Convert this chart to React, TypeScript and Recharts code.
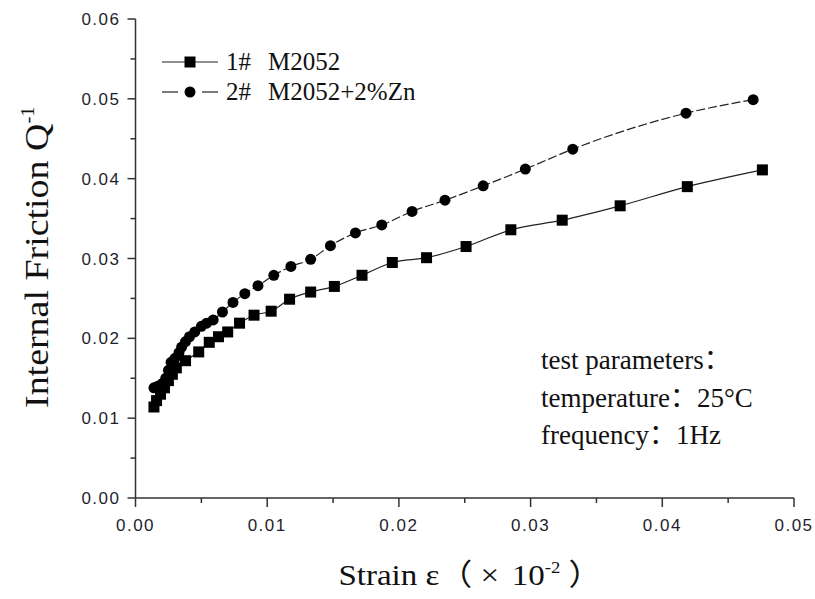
import { Line, LineChart, XAxis, YAxis } from "recharts"

// 1# M2052
const strain1 = [0.0014, 0.0016, 0.0019, 0.0022, 0.0025, 0.0028, 0.0031, 0.0038, 0.0048, 0.0056, 0.0063, 0.0070, 0.0079, 0.0090, 0.0103, 0.0117, 0.0133, 0.0151, 0.0172, 0.0195, 0.0221, 0.0251, 0.0285, 0.0324, 0.0368, 0.0419, 0.0476]
const friction1 = [0.0114, 0.0122, 0.0130, 0.0138, 0.0147, 0.0155, 0.0163, 0.0172, 0.0183, 0.0195, 0.0202, 0.0208, 0.0219, 0.0229, 0.0234, 0.0249, 0.0258, 0.0265, 0.0279, 0.0295, 0.0301, 0.0315, 0.0336, 0.0348, 0.0366, 0.0390, 0.0411]

// 2# M2052+2%Zn
const strain2 = [0.0014, 0.0017, 0.0020, 0.0023, 0.0025, 0.0027, 0.0030, 0.0033, 0.0035, 0.0038, 0.0041, 0.0045, 0.0050, 0.0054, 0.0059, 0.0066, 0.0074, 0.0083, 0.0093, 0.0105, 0.0118, 0.0133, 0.0148, 0.0167, 0.0187, 0.0210, 0.0235, 0.0264, 0.0296, 0.0332, 0.0418, 0.0469]
const friction2 = [0.0138, 0.0140, 0.0143, 0.0150, 0.0160, 0.0170, 0.0175, 0.0182, 0.0189, 0.0196, 0.0202, 0.0208, 0.0215, 0.0219, 0.0223, 0.0233, 0.0245, 0.0256, 0.0266, 0.0279, 0.0290, 0.0299, 0.0316, 0.0332, 0.0342, 0.0359, 0.0373, 0.0391, 0.0412, 0.0437, 0.0482, 0.0499]

const xTicks = [0, 0.005, 0.01, 0.015, 0.02, 0.025, 0.03, 0.035, 0.04, 0.045, 0.05]
const yTicks = [0, 0.005, 0.01, 0.015, 0.02, 0.025, 0.03, 0.035, 0.04, 0.045, 0.05, 0.055, 0.06]

const series1 = strain1.map((s, i) => ({ strain: s, q: friction1[i] }))
const series2 = strain2.map((s, i) => ({ strain: s, q: friction2[i] }))

const axisColor = "#333"
const tickFont = { fontFamily: "Liberation Sans, Arial, sans-serif", fontSize: 17, letterSpacing: 1.5, fill: "#1e1e2c" }
const serif = "Liberation Serif, Times New Roman, serif"
const cjk = "Noto Sans CJK SC"

const isMajor = (v: number) => Math.abs(v * 100 - Math.round(v * 100)) < 1e-6

function XTick({ x, y, payload }: any) {
  const major = isMajor(payload.value)
  return (
    <g>
      <line x1={x} x2={x} y1={y} y2={y + (major ? 9 : 5)} stroke={axisColor} strokeWidth={1.5} />
      {major && (
        <text x={x} y={y + 33} textAnchor="middle" {...tickFont}>
          {payload.value.toFixed(2)}
        </text>
      )}
    </g>
  )
}

function YTick({ x, y, payload }: any) {
  const major = isMajor(payload.value)
  return (
    <g>
      <line x1={x} x2={x - (major ? 8 : 5)} y1={y} y2={y} stroke={axisColor} strokeWidth={1.5} />
      {major && (
        <text x={x - 15} y={y + 6} textAnchor="end" {...tickFont}>
          {payload.value.toFixed(2)}
        </text>
      )}
    </g>
  )
}

const squareDot = (p: any) => (
  <rect key={`sq-${p.index}`} x={p.cx - 5.5} y={p.cy - 5.5} width={11} height={11} fill="#000" />
)
const circleDot = (p: any) => (
  <circle key={`ci-${p.index}`} cx={p.cx} cy={p.cy} r={5.5} fill="#000" />
)

export default function App() {
  return (
    <div style={{ position: "absolute", left: 0, top: 0, width: 815, height: 599, background: "#fff" }}>
      <LineChart width={815} height={599} margin={{ top: 19, right: 21, bottom: 61, left: 65.5 }}>
        <XAxis
          type="number"
          dataKey="strain"
          domain={[0, 0.05]}
          ticks={xTicks}
          allowDataOverflow
          height={40}
          tickSize={0}
          tickMargin={0}
          tickLine={false}
          tick={<XTick />}
          stroke={axisColor}
          strokeWidth={1.5}
        />
        <XAxis xAxisId="top" orientation="top" type="number" domain={[0, 0.05]} height={0} tick={false} tickLine={false} stroke={axisColor} strokeWidth={1.5} />
        <YAxis
          type="number"
          dataKey="q"
          domain={[0, 0.06]}
          ticks={yTicks}
          allowDataOverflow
          width={70}
          tickSize={0}
          tickMargin={0}
          tickLine={false}
          tick={<YTick />}
          stroke={axisColor}
          strokeWidth={1.5}
        />
        <YAxis yAxisId="right" orientation="right" type="number" domain={[0, 0.06]} width={0} tick={false} tickLine={false} stroke={axisColor} strokeWidth={1.5} />
        <Line data={series1} dataKey="q" type="monotone" stroke="#222" strokeWidth={1.2} dot={squareDot} isAnimationActive={false} />
        <Line data={series2} dataKey="q" type="monotone" stroke="#222" strokeWidth={1.2} strokeDasharray="9 3" dot={circleDot} isAnimationActive={false} />
      </LineChart>

      <svg width={815} height={599} style={{ position: "absolute", left: 0, top: 0, pointerEvents: "none" }}>
        {/* legend */}
        <line x1={162} x2={218} y1={62} y2={62} stroke="#222" strokeWidth={1.2} />
        <rect x={184.5} y={56.5} width={11} height={11} fill="#000" />
        <text x={226} y={70} fontFamily={serif} fontSize={25} fill="#111">1#</text>
        <text x={268} y={70} fontFamily={serif} fontSize={25} fill="#111">M2052</text>
        <line x1={162} x2={178} y1={92} y2={92} stroke="#222" strokeWidth={1.2} />
        <line x1={202} x2={218} y1={92} y2={92} stroke="#222" strokeWidth={1.2} />
        <circle cx={190} cy={92} r={5.5} fill="#000" />
        <text x={226} y={100} fontFamily={serif} fontSize={25} fill="#111">2#</text>
        <text x={268} y={100} fontFamily={serif} fontSize={25} fill="#111">M2052+2%Zn</text>

        {/* test parameters */}
        <text x={541} y={369} fontFamily={serif} fontSize={27} fill="#111">
          test parameters<tspan fontFamily={cjk}>：</tspan>
        </text>
        <text x={541} y={407} fontFamily={serif} fontSize={27} fill="#111">
          temperature<tspan fontFamily={cjk}>：</tspan>25°C
        </text>
        <text x={541} y={444} fontFamily={serif} fontSize={27} fill="#111">
          frequency<tspan fontFamily={cjk}>：</tspan>1Hz
        </text>

        {/* axis titles */}
        <text transform="translate(470,585) scale(1.1,1)" x={0} y={0} textAnchor="middle" fontFamily={serif} fontSize={30} fill="#111">
          Strain ε<tspan fontFamily={cjk}>（</tspan> × <tspan dx={4}>10</tspan><tspan dy={-12} fontSize={17}>-2</tspan><tspan dy={12}> </tspan><tspan fontFamily={cjk}>）</tspan>
        </text>
        <text transform="translate(48,408) rotate(-90) scale(1.15,1)" x={0} y={0} fontFamily={serif} fontSize={33} fill="#111">
          Internal Friction Q<tspan dy={-14} fontSize={18}>-1</tspan>
        </text>
      </svg>
    </div>
  )
}
